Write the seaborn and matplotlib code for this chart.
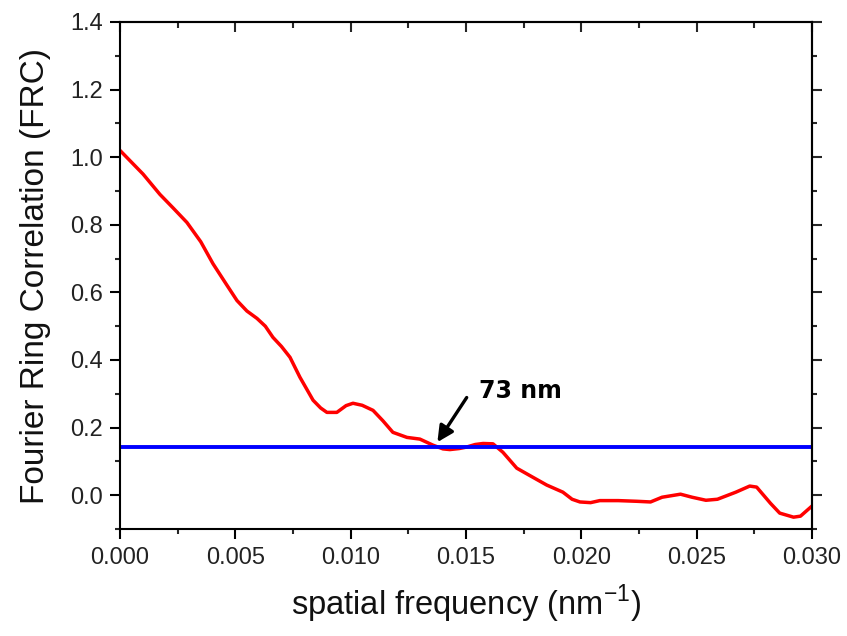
import matplotlib
matplotlib.use("Agg")
import matplotlib.pyplot as plt
from matplotlib.ticker import MultipleLocator, FormatStrFormatter
import numpy as np
import pandas as pd
import seaborn as sns

# ---- data ----
freq = [0.00000, 0.00050, 0.00100, 0.00173, 0.00230, 0.00290, 0.00350, 0.00403,
        0.00460, 0.00507, 0.00550, 0.00594, 0.00630, 0.00663, 0.00700, 0.00737,
        0.00780, 0.00837, 0.00870, 0.00897, 0.00940, 0.00980, 0.01010, 0.01050,
        0.01097, 0.01140, 0.01183, 0.01244, 0.01300, 0.01357, 0.01400, 0.01430,
        0.01470, 0.01500, 0.01540, 0.01574, 0.01617, 0.01660, 0.01720, 0.01790,
        0.01850, 0.01920, 0.01960, 0.01994, 0.02040, 0.02080, 0.02160, 0.02240,
        0.02300, 0.02350, 0.02430, 0.02480, 0.02540, 0.02590, 0.02670, 0.02730,
        0.02760, 0.02820, 0.02860, 0.02920, 0.02950, 0.03000]
frc = [1.020, 0.985, 0.950, 0.890, 0.850, 0.807, 0.750, 0.685,
       0.625, 0.576, 0.545, 0.523, 0.500, 0.467, 0.440, 0.408,
       0.349, 0.281, 0.258, 0.245, 0.245, 0.265, 0.272, 0.266,
       0.251, 0.220, 0.186, 0.171, 0.166, 0.148, 0.137, 0.135,
       0.138, 0.142, 0.150, 0.153, 0.152, 0.127, 0.080, 0.053,
       0.030, 0.009, -0.012, -0.020, -0.022, -0.016, -0.016, -0.018,
       -0.020, -0.006, 0.003, -0.006, -0.015, -0.012, 0.009, 0.027,
       0.024, -0.024, -0.053, -0.065, -0.062, -0.032]
threshold_x = [0.0, 0.030]
threshold_y = [1 / 7, 1 / 7]
annotation_text = "73 nm"
arrow_tip = (0.01376, 0.157)
arrow_tail = (0.01503, 0.289)
text_pos = (0.01556, 0.287)

sns.set_style("white")
plt.rcParams["font.family"] = ["Liberation Sans", "DejaVu Sans"]

fig = plt.figure(figsize=(8.47, 6.36), dpi=100)
ax = fig.add_axes([120 / 847, 1 - 529 / 636, 692 / 847, 507 / 636])

df = pd.DataFrame({"freq": freq, "frc": frc})
sns.lineplot(data=df, x="freq", y="frc", color="#ff0000", linewidth=2.5,
             estimator=None, sort=False, ax=ax)
sns.lineplot(x=threshold_x, y=threshold_y, color="#0000ff", linewidth=2.8,
             estimator=None, ax=ax)

ax.set_xlim(0, 0.030)
ax.set_ylim(-0.1, 1.4)
ax.xaxis.set_major_locator(MultipleLocator(0.005))
ax.xaxis.set_minor_locator(MultipleLocator(0.0025))
ax.yaxis.set_major_locator(MultipleLocator(0.2))
ax.yaxis.set_minor_locator(MultipleLocator(0.1))
ax.xaxis.set_major_formatter(FormatStrFormatter("%.3f"))
ax.yaxis.set_major_formatter(FormatStrFormatter("%.1f"))

for s in ax.spines.values():
    s.set_visible(True)
    s.set_linewidth(1.5)
    s.set_color("black")

ax.tick_params(axis="both", which="major", direction="out", length=7, width=1.5,
               labelsize=17, pad=5, colors="black", labelcolor="#222222")
ax.tick_params(axis="both", which="minor", direction="out", length=3.5, width=1.5)
ax.tick_params(axis="x", which="major", pad=6)
ax.tick_params(bottom=True, left=True, which="both")

# top axis: ticks pointing inward
top = ax.secondary_xaxis("top")
top.xaxis.set_major_locator(MultipleLocator(0.005))
top.xaxis.set_minor_locator(MultipleLocator(0.0025))
top.tick_params(which="major", direction="in", length=7, width=1.5, labeltop=False)
top.tick_params(which="minor", direction="in", length=4, width=1.5)
top.spines["top"].set_linewidth(1.5)

# right axis: ticks pointing outward
right = ax.secondary_yaxis("right")
right.yaxis.set_major_locator(MultipleLocator(0.2))
right.yaxis.set_minor_locator(MultipleLocator(0.1))
right.tick_params(which="major", direction="out", length=7, width=1.5, labelright=False)
right.tick_params(which="minor", direction="out", length=3.5, width=1.5)
right.spines["right"].set_linewidth(1.5)

ax.set_xlabel("spatial frequency (nm$^{\\mathregular{-1}}$)", fontsize=23.5,
              labelpad=10, color="#111111")
ax.set_ylabel("Fourier Ring Correlation (FRC)", fontsize=24, labelpad=14,
              color="#111111")

ax.annotate("", xy=arrow_tip, xytext=arrow_tail,
            arrowprops=dict(arrowstyle="-|>", color="black", lw=2.4,
                            mutation_scale=24, shrinkA=0, shrinkB=0))
ax.text(text_pos[0], text_pos[1], annotation_text, fontsize=17, fontweight="bold",
        family=["DejaVu Sans"], ha="left", va="baseline", color="black")

fig.savefig("out.png", dpi=100)
